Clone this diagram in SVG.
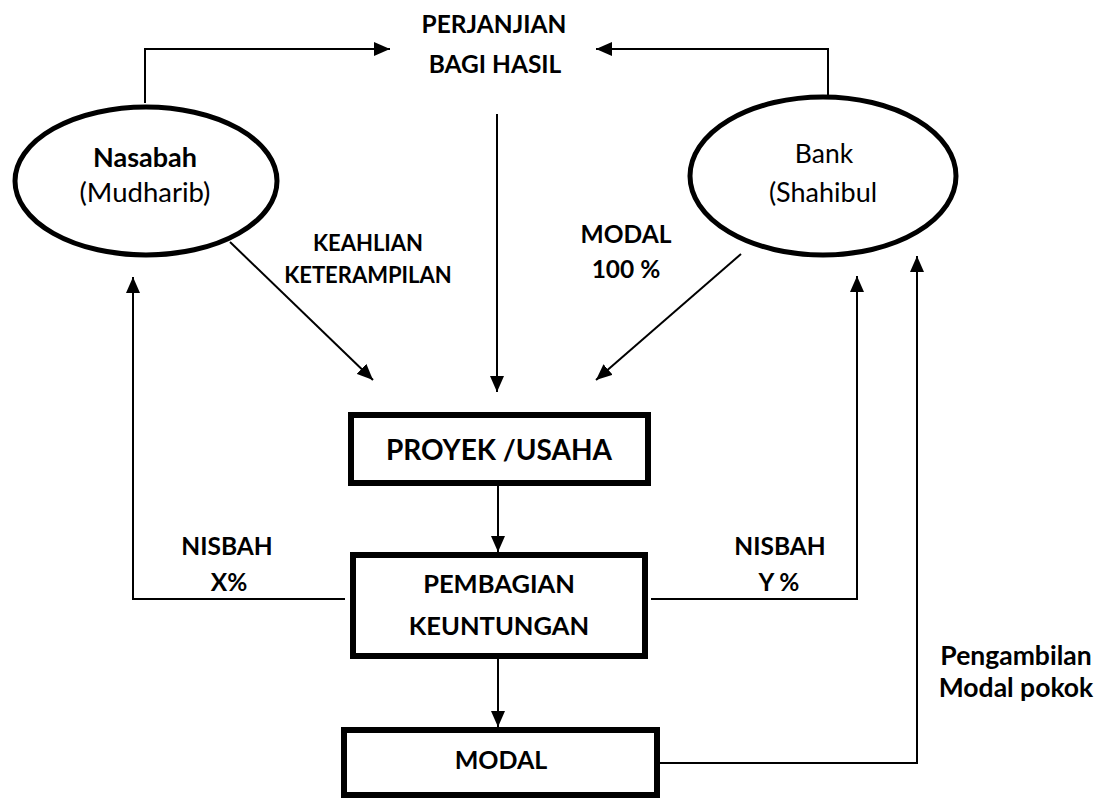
<svg xmlns="http://www.w3.org/2000/svg" width="1111" height="800" viewBox="0 0 1111 800">
<defs>
<style>
text{font-family:Lato,"Open Sans",sans-serif;fill:#000;text-anchor:middle}
.b{font-weight:bold}
.node{fill:#fff;stroke:#000}
.ell{stroke-width:5}
.box{stroke-width:6}
.con{fill:none;stroke:#000;stroke-width:2}
</style>
<marker id="ah" markerWidth="16" markerHeight="14" refX="16" refY="7" orient="auto" markerUnits="userSpaceOnUse"><path d="M0,0 L16,7 L0,14 z" fill="#000"/></marker>
</defs>
<rect width="1111" height="800" fill="#fff"/>
<g id="connectors">
<polyline class="con" points="145,103 145,49 390,49" marker-end="url(#ah)"/>
<polyline class="con" points="828,95 828,49 596,49" marker-end="url(#ah)"/>
<line class="con" x1="497" y1="114" x2="497" y2="392" marker-end="url(#ah)"/>
<line class="con" x1="230" y1="242" x2="373" y2="380" marker-end="url(#ah)"/>
<line class="con" x1="741" y1="254" x2="596" y2="380" marker-end="url(#ah)"/>
<line class="con" x1="498" y1="486" x2="498" y2="552" marker-end="url(#ah)"/>
<line class="con" x1="498" y1="659" x2="498" y2="727" marker-end="url(#ah)"/>
<polyline class="con" points="345,599 133,599 133,277" marker-end="url(#ah)"/>
<polyline class="con" points="651,599 857,599 857,276" marker-end="url(#ah)"/>
<polyline class="con" points="660,763 917,763 917,256" marker-end="url(#ah)"/>
<text class="b" x="368" y="251" font-size="22">KEAHLIAN</text>
<text class="b" x="368" y="283" font-size="22">KETERAMPILAN</text>
<text class="b" x="626" y="243" font-size="24.5">MODAL</text>
<text class="b" x="626" y="278" font-size="24.5">100 %</text>
<text class="b" x="227" y="555" font-size="24.5">NISBAH</text>
<text class="b" x="229" y="591" font-size="24.5">X%</text>
<text class="b" x="780" y="555" font-size="24.5">NISBAH</text>
<text class="b" x="779" y="591" font-size="24.5">Y %</text>
<text class="b" x="1016" y="665" font-size="26.5">Pengambilan</text>
<text class="b" x="1016" y="697" font-size="26.5">Modal pokok</text>
</g>
<g id="perjanjian">
<text class="b" x="494" y="33" font-size="24.5">PERJANJIAN</text>
<text class="b" x="495" y="73" font-size="24.5">BAGI HASIL</text>
</g>
<g id="nasabah">
<ellipse class="node ell" cx="146" cy="181" rx="131" ry="74"/>
<text class="b" x="145" y="167" font-size="27">Nasabah</text>
<text x="145" y="202" font-size="27.5">(Mudharib)</text>
</g>
<g id="bank">
<ellipse class="node ell" cx="823" cy="176" rx="133" ry="79"/>
<text x="824" y="163" font-size="26.5">Bank</text>
<text x="823" y="202" font-size="27">(Shahibul</text>
</g>
<g id="proyek">
<rect class="node box" x="351" y="415" width="297" height="68"/>
<text class="b" x="499" y="460" font-size="28">PROYEK /USAHA</text>
</g>
<g id="pembagian">
<rect class="node box" x="353" y="555" width="292" height="101"/>
<text class="b" x="499" y="593" font-size="25.5">PEMBAGIAN</text>
<text class="b" x="499" y="635" font-size="25.5">KEUNTUNGAN</text>
</g>
<g id="modal">
<rect class="node box" x="344" y="730" width="313" height="65"/>
<text class="b" x="501" y="769" font-size="25">MODAL</text>
</g>
</svg>
